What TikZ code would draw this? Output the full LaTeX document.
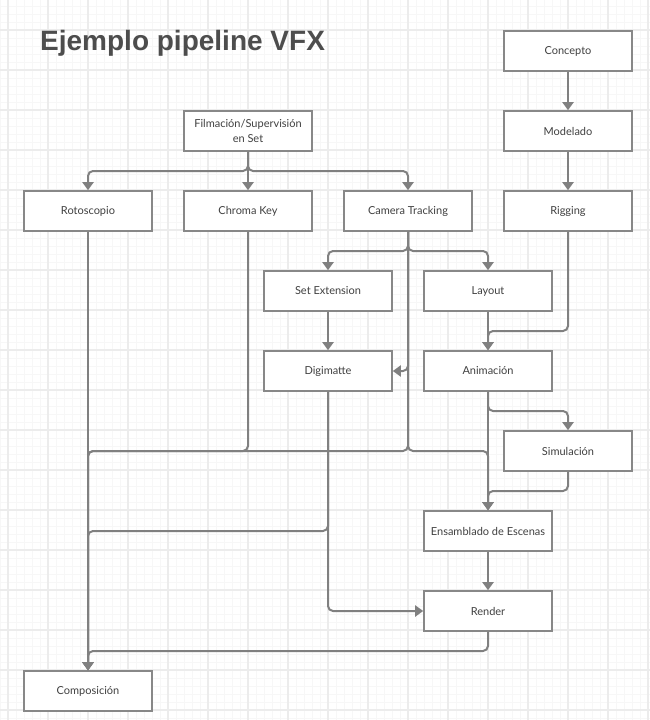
\documentclass[tikz,border=0pt]{standalone}
\usepackage{fontspec}
\setmainfont{Lato}
\newfontfamily\titlefont{Liberation Sans}
\usetikzlibrary{arrows.meta}
\definecolor{gridmaj}{HTML}{ECECEC}
\definecolor{gridmin}{HTML}{F7F7F7}
\definecolor{boxline}{HTML}{888888}
\definecolor{connline}{HTML}{808080}
\definecolor{txt}{HTML}{404040}
\definecolor{titlecol}{HTML}{4D4D4D}
\tikzset{
  stepbox/.style={draw=boxline, line width=1.6pt, fill=white, minimum width=128pt, minimum height=40pt, inner sep=2pt, align=center, font=\fontsize{11}{15}\selectfont, text=txt},
  conn/.style={draw=connline, line width=2pt, rounded corners=5pt, -{Triangle[width=11pt,length=8pt]}}
}
\begin{document}
\begin{tikzpicture}[x=1pt,y=-1pt]
\useasboundingbox (0,0) rectangle (650,720);
\fill[white] (0,0) rectangle (650,720);
% grid
\foreach \x in {0,8,...,648} \draw[gridmin, line width=0.8pt] (\x,0) -- (\x,720);
\foreach \y in {6,14,...,718} \draw[gridmin, line width=0.8pt] (0,\y) -- (650,\y);
\foreach \x in {8,48,...,648} \draw[gridmaj, line width=1.2pt] (\x,0) -- (\x,720);
\foreach \y in {30,70,...,710} \draw[gridmaj, line width=1.2pt] (0,\y) -- (650,\y);
% title
\node[anchor=base west, inner sep=0pt, text=titlecol, font=\titlefont\bfseries\fontsize{28}{33}\selectfont] (title) at (40,50) {Ejemplo pipeline VFX};
% nodes
\node[stepbox] (concepto) at (568,51) {Concepto};
\node[stepbox] (modelado) at (568,131) {Modelado};
\node[stepbox] (rigging) at (568,211) {Rigging};
\node[stepbox] (film) at (248,131) {Filmación/Supervisión\\en Set};
\node[stepbox] (roto) at (88,211) {Rotoscopio};
\node[stepbox] (chroma) at (248,211) {Chroma Key};
\node[stepbox] (cam) at (408,211) {Camera Tracking};
\node[stepbox] (setext) at (328,291) {Set Extension};
\node[stepbox] (layout) at (488,291) {Layout};
\node[stepbox] (digi) at (328,371) {Digimatte};
\node[stepbox] (anim) at (488,371) {Animación};
\node[stepbox] (sim) at (568,451) {Simulación};
\node[stepbox] (ens) at (488,531) {Ensamblado de Escenas};
\node[stepbox] (render) at (488,611) {Render};
\node[stepbox] (comp) at (88,691) {Composición};
% connectors
\draw[conn] (concepto.south) -- (modelado.north);
\draw[conn] (modelado.south) -- (rigging.north);
\draw[conn] (film.south) -- (248,171) -| (roto.north);
\draw[conn] (film.south) -- (chroma.north);
\draw[conn] (film.south) -- (248,171) -| (cam.north);
\draw[conn] (cam.south) -- (408,251) -| (setext.north);
\draw[conn] (cam.south) -- (408,251) -| (layout.north);
\draw[conn] (cam.south) |- (digi.east);
\draw[conn] (cam.south) -- (408,451) -| (comp.north);
\draw[conn] (cam.south) -- (408,451) -| (ens.north);
\draw[conn] (roto.south) -- (comp.north);
\draw[conn] (chroma.south) -- (248,451) -| (comp.north);
\draw[conn] (setext.south) -- (digi.north);
\draw[conn] (digi.south) -- (328,531) -| (comp.north);
\draw[conn] (digi.south) |- (render.west);
\draw[conn] (rigging.south) -- (568,331) -| (anim.north);
\draw[conn] (layout.south) -- (anim.north);
\draw[conn] (anim.south) -- (488,411) -| (sim.north);
\draw[conn] (anim.south) -- (ens.north);
\draw[conn] (sim.south) -- (568,491) -| (ens.north);
\draw[conn] (ens.south) -- (render.north);
\draw[conn] (render.south) -- (488,651) -| (comp.north);
\end{tikzpicture}
\end{document}
